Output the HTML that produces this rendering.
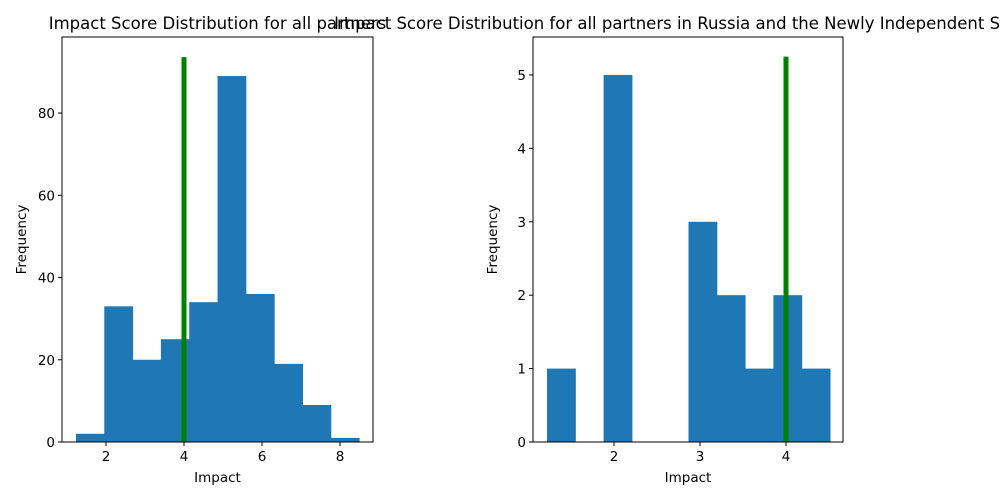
<!DOCTYPE html>
<html><head><meta charset="utf-8"><style>
html,body{margin:0;padding:0;background:#fff;}
svg{display:block;font-family:"DejaVu Sans","Liberation Sans",sans-serif;}
</style></head><body>
<svg id="chart" width="1000" height="500" viewBox="0 0 1000 500" xmlns="http://www.w3.org/2000/svg"></svg>
<script>
const leftCounts=[2,33,20,25,34,89,36,19,9,1];
const leftBinStart=1.23, leftBinEnd=8.49;
const leftXTicks=[2,4,6,8];
const leftYTicks=[0,20,40,60,80];
const leftMarker=4, leftMarkerTop=93.6;
const rightCounts=[1,0,5,0,0,3,2,1,2,1];
const rightBinStart=1.221, rightBinEnd=4.512;
const rightXTicks=[2,3,4];
const rightYTicks=[0,1,2,3,4,5];
const rightMarker=4, rightMarkerTop=5.25;
const titles=["Impact Score Distribution for all partners","Impact Score Distribution for all partners in Russia and the Newly Independent States"];

const svg=document.getElementById('chart');
const NS="http://www.w3.org/2000/svg";
function mk(tag,attrs,parent){const e=document.createElementNS(NS,tag);for(const k in attrs)e.setAttribute(k,attrs[k]);(parent||svg).appendChild(e);return e;}

function panel(cfg){
  const g=mk('g',{});
  
  
  const {x0,x1,y0,y1,xmin,xmax,ymin,ymax}=cfg;
  const sx=v=>x0+(v-xmin)/(xmax-xmin)*(x1-x0);
  const sy=v=>y1-(v-ymin)/(ymax-ymin)*(y1-y0);
  const n=cfg.counts.length, w=(cfg.binEnd-cfg.binStart)/n;
  cfg.counts.forEach((c,i)=>{
    if(c<=0)return;
    const a=sx(cfg.binStart+i*w), b=sx(cfg.binStart+(i+1)*w);
    const r=mk('rect',{x:a,y:sy(c),width:b-a+0.5,height:sy(0)-sy(c),fill:'#1f77b4'},g);
    
    
  });
  const ln=mk('line',{x1:sx(cfg.marker),x2:sx(cfg.marker),y1:sy(0),y2:sy(cfg.markerTop),stroke:'green','stroke-width':5},g);
  
  
  const fr=mk('rect',{x:x0,y:y0,width:x1-x0,height:y1-y0,fill:'none',stroke:'#000','stroke-width':1},g);
  
  
  cfg.xticks.forEach(t=>{
    const X=sx(t);
    mk('line',{x1:X,x2:X,y1:y1,y2:y1+4,stroke:'#000'},g);
    const tx=mk('text',{x:X,y:y1+19,'text-anchor':'middle','font-size':13.5},g);
    tx.textContent=t;
    
    
  });
  cfg.yticks.forEach(t=>{
    const Y=sy(t);
    mk('line',{x1:x0-4,x2:x0,y1:Y,y2:Y,stroke:'#000'},g);
    const tx=mk('text',{x:x0-7,y:Y+5,'text-anchor':'end','font-size':13.5},g);
    tx.textContent=t;
    
    
  });
  const xl=mk('text',{x:(x0+x1)/2,y:y1+40,'text-anchor':'middle','font-size':13.5},g);
  xl.textContent='Impact';
  
  
  const yl=mk('text',{x:0,y:0,'text-anchor':'middle','font-size':13.5,transform:`translate(${x0-36},${(y0+y1)/2}) rotate(-90)`},g);
  yl.textContent='Frequency';
  
  
  const ti=mk('text',{x:(x0+x1)/2,y:y0-8,'text-anchor':'middle','font-size':16.5},g);
  ti.textContent=cfg.title;
  
  
}
panel({name:'left-histogram',x0:62,x1:373,y0:37,y1:442,xmin:0.872,xmax:8.846,ymin:0,ymax:98.5,
  counts:leftCounts,binStart:leftBinStart,binEnd:leftBinEnd,xticks:leftXTicks,yticks:leftYTicks,
  marker:leftMarker,markerTop:leftMarkerTop,title:titles[0]});
panel({name:'right-histogram',x0:533,x1:843,y0:37,y1:442,xmin:1.058,xmax:4.663,ymin:0,ymax:5.517,
  counts:rightCounts,binStart:rightBinStart,binEnd:rightBinEnd,xticks:rightXTicks,yticks:rightYTicks,
  marker:rightMarker,markerTop:rightMarkerTop,title:titles[1]});
</script>
</body></html>
